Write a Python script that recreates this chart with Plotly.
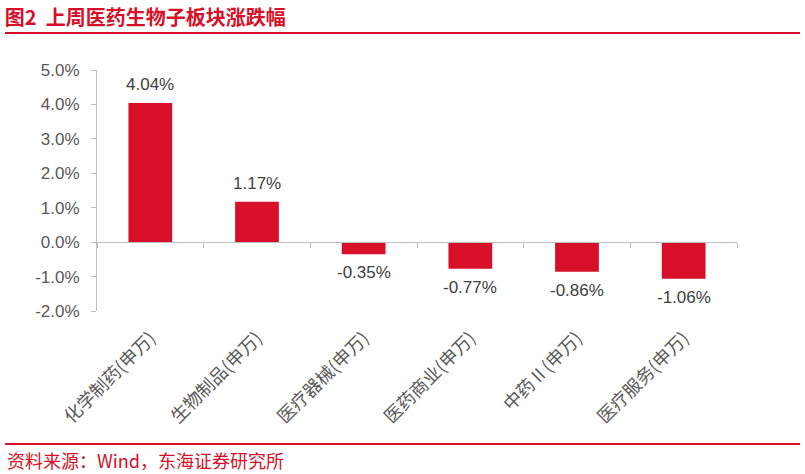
import plotly.graph_objects as go

categories = ["化学制药(申万)", "生物制品(申万)", "医疗器械(申万)", "医药商业(申万)", "中药Ⅱ(申万)", "医疗服务(申万)"]
values = [4.04, 1.17, -0.35, -0.77, -0.86, -1.06]
value_labels = [f"{v:.2f}%" for v in values]

y_tick_values = [-2, -1, 0, 1, 2, 3, 4, 5]
y_tick_labels = ["-2.0%", "-1.0%", "0.0%", "1.0%", "2.0%", "3.0%", "4.0%", "5.0%"]

title_text = "图2  上周医药生物子板块涨跌幅"
source_text = "资料来源：Wind，东海证券研究所"

RED = "#d70f28"
AXIS = "#bfbfbf"
FONT = "Liberation Sans, Arial, Noto Sans CJK SC, sans-serif"
CJK = "Noto Sans CJK SC, Liberation Sans, sans-serif"

fig = go.Figure()
fig.add_trace(go.Bar(x=categories, y=values, marker=dict(color=RED, line=dict(width=0)),
                     hoverinfo="skip", xaxis="x", yaxis="y"))
fig.add_trace(go.Scatter(x=categories, y=values, mode="markers", marker=dict(opacity=0),
                         hoverinfo="skip", showlegend=False, xaxis="x2", yaxis="y"))

for c, v, t in zip(categories, values, value_labels):
    fig.add_annotation(x=c, y=v, text=t, showarrow=False, xref="x", yref="y",
                       yanchor="bottom" if v >= 0 else "top",
                       yshift=7 if v >= 0 else -7,
                       font=dict(family=FONT, size=17, color="#404040"))

fig.update_layout(
    width=805, height=474, autosize=False,
    margin=dict(l=97, r=68, t=70, b=163),
    paper_bgcolor="white", plot_bgcolor="white",
    showlegend=False, bargap=0.59,
    title=dict(text=f"<b>{title_text}</b>", x=0.006, xanchor="left", y=1 - 18 / 474, yanchor="middle",
               font=dict(family=CJK, size=20, color=RED)),
    xaxis=dict(type="category", showline=False, ticks="", tickangle=-45, showgrid=False, zeroline=False,
               tickfont=dict(family=CJK, size=18, color="#595959"), ticklabelstandoff=12),
    xaxis2=dict(type="category", overlaying="x", anchor="free", position=2 / 7, matches="x",
                showline=True, linecolor=AXIS, linewidth=1, ticks="outside", tickson="boundaries",
                ticklen=5, tickcolor=AXIS, showticklabels=False, showgrid=False, zeroline=False),
    yaxis=dict(range=[-2, 5], tickmode="array", tickvals=y_tick_values, ticktext=y_tick_labels,
               showline=True, linecolor=AXIS,
               linewidth=1, ticks="outside", ticklen=5, tickcolor=AXIS, showgrid=False, zeroline=False,
               tickfont=dict(family=FONT, size=17, color="#595959"), ticklabelstandoff=8),
)

# decorative header and footer rules
fig.add_shape(type="line", xref="paper", yref="paper", x0=(5 - 97) / 640, x1=(800 - 97) / 640,
              y0=(311 - 33) / 241, y1=(311 - 33) / 241, line=dict(color=RED, width=2))
fig.add_shape(type="line", xref="paper", yref="paper", x0=(5 - 97) / 640, x1=(800 - 97) / 640,
              y0=(311 - 444) / 241, y1=(311 - 444) / 241, line=dict(color=RED, width=2))
fig.add_annotation(text=source_text, xref="paper", yref="paper", x=(5 - 97) / 640, y=(311 - 460) / 241,
                   xanchor="left", yanchor="middle", showarrow=False,
                   font=dict(family=CJK, size=18, color=RED))

fig.write_html("out.html", config={"displayModeBar": False},
               post_script="document.body.style.margin='0';document.body.style.overflow='hidden';")
